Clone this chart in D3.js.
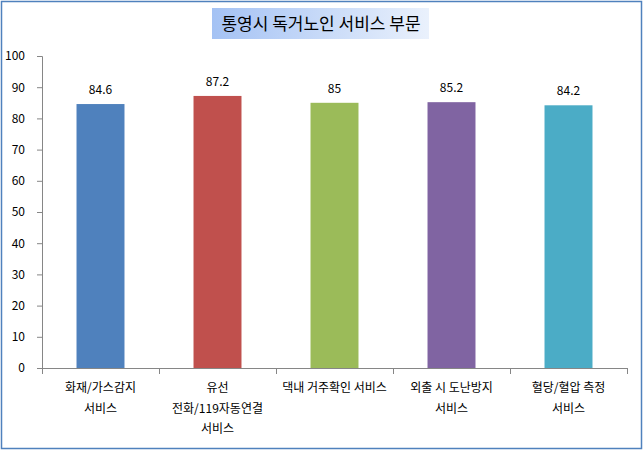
<!DOCTYPE html>
<html><head><meta charset="utf-8">
<script src="https://cdn.jsdelivr.net/npm/d3@7"></script>
<style>body{margin:0;background:#fff}svg{display:block}</style>
</head><body>
<script>
const categories = [["화재/가스감지","서비스"],["유선","전화/119자동연결","서비스"],["댁내 거주확인 서비스"],["외출 시 도난방지","서비스"],["혈당/혈압 측정","서비스"]];
const values = [84.6, 87.2, 85, 85.2, 84.2];
const valueLabels = ["84.6","87.2","85","85.2","84.2"];
const colors = ["#4f81bd","#c0504d","#9bbb59","#8064a2","#4bacc6"];
const yTicks = [0,10,20,30,40,50,60,70,80,90,100];
const title = "통영시 독거노인 서비스 부문";

const W=643,H=450;
const font = "'Noto Sans CJK KR', 'Noto Sans', sans-serif";
const svg=d3.select("body").append("svg").attr("width",W).attr("height",H);
svg.append("rect").attr("x",1.5).attr("y",1.5).attr("width",W-3).attr("height",H-3).attr("fill","#fff").attr("stroke","#4f81bd").attr("stroke-width",1.5);

const defs=svg.append("defs");
const g=defs.append("linearGradient").attr("id","tg").attr("x1","0").attr("x2","1");
g.append("stop").attr("offset","0").attr("stop-color","#a4c2f4");
g.append("stop").attr("offset","1").attr("stop-color","#eaf1fc");
svg.append("rect").attr("x",212).attr("y",8).attr("width",217).attr("height",31).attr("fill","url(#tg)");
svg.append("text").attr("x",321).attr("y",30).attr("text-anchor","middle").attr("font-family",font).attr("font-size",17).attr("fill","#000").text(title);

const x=d3.scaleBand().domain(d3.range(values.length)).range([42,627]).paddingInner(0.59).paddingOuter(0.295);
const y=d3.scaleLinear().domain([0,100]).range([368,56]);

const axisColor="#868686";
const ya=svg.append("g").attr("transform","translate(42,0)").call(d3.axisLeft(y).tickValues(yTicks).tickSize(5).tickPadding(12));
ya.select(".domain").attr("stroke",axisColor);
ya.selectAll(".tick line").attr("stroke",axisColor);
ya.selectAll("text").attr("font-family",font).attr("font-size",12).attr("fill","#000");

svg.selectAll("rect.bar").data(values).join("rect").attr("class","bar")
 .attr("x",(d,i)=>x(i)).attr("width",x.bandwidth()).attr("y",d=>y(d)).attr("height",d=>y(0)-y(d)).attr("fill",(d,i)=>colors[i]);

svg.selectAll("text.val").data(values).join("text").attr("class","val")
 .attr("x",(d,i)=>x(i)+x.bandwidth()/2).attr("y",d=>y(d)-10).attr("text-anchor","middle")
 .attr("font-family",font).attr("font-size",12).attr("fill","#000").text((d,i)=>valueLabels[i]);

// x axis
const step=x.step();
const xg=svg.append("g");
xg.append("line").attr("x1",42).attr("x2",627).attr("y1",368.5).attr("y2",368.5).attr("stroke",axisColor);
d3.range(values.length+1).forEach(i=>{
  const xx=Math.round(42+i*step)+0.5;
  xg.append("line").attr("x1",xx).attr("x2",xx).attr("y1",368).attr("y2",374).attr("stroke",axisColor);
});
categories.forEach((lines,i)=>{
  const cx=x(i)+x.bandwidth()/2;
  const t=svg.append("text").attr("text-anchor","middle").attr("font-family",font).attr("font-size",12).attr("fill","#000");
  lines.forEach((l,j)=>t.append("tspan").attr("x",cx).attr("y",392+j*20.5).text(l));
});
</script>
</body></html>
